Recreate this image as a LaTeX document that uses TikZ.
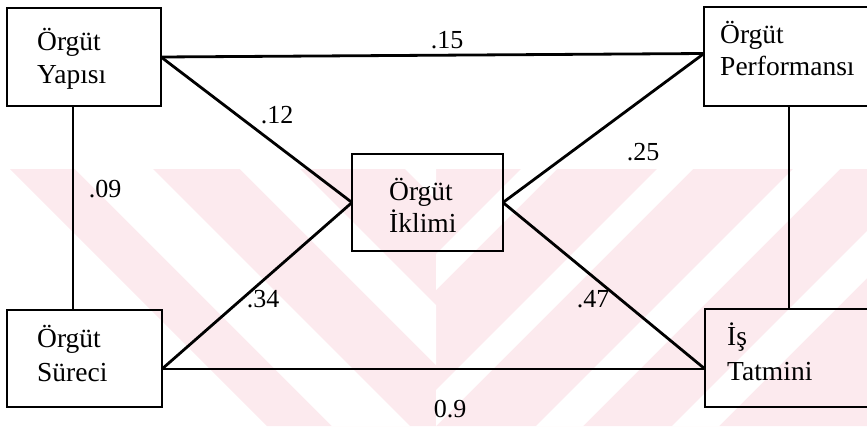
\documentclass[tikz,border=0pt]{standalone}
\usepackage{fontspec}
\setmainfont{Liberation Serif}
\usetikzlibrary{calc}
\definecolor{wmpink}{RGB}{252,234,238}
\tikzset{
  box/.style={draw, line width=1.8pt, inner sep=0pt, outer sep=0pt},
  txt/.style={anchor=base west, inner sep=0pt, font=\fontsize{27.5}{33}\selectfont},
  lbl/.style={anchor=base, inner sep=0pt, font=\fontsize{26}{30}\selectfont},
  link/.style={line width=2.8pt},
  vlink/.style={line width=2pt},
}
\begin{document}
\begin{tikzpicture}[x=1pt,y=-1pt]
\useasboundingbox (0,0) rectangle (867,426);
\clip (0,0) rectangle (867,426);

% faint striped watermark behind the diagram
\begin{scope}
  \fill[wmpink] (10,169) -- (867,169) -- (867,426) -- (267,426) -- cycle;
  \begin{scope}
    \clip (0,169) rectangle (436,426);
    \foreach \a/\b in {75/153, 240/300, 405/470}
      \fill[white] (\a,169) -- (\b,169) -- ({\b+257},426) -- ({\a+257},426) -- cycle;
  \end{scope}
  \begin{scope}
    \clip (436,169) rectangle (867,426);
    \foreach \a/\b in {521/557, 657/693, 793/840, 929/976}
      \fill[white] (\a,169) -- (\b,169) -- ({\b-257},426) -- ({\a-257},426) -- cycle;
  \end{scope}
\end{scope}

% boxes
\node[box, minimum width=154pt, minimum height=98pt] (yap) at (84,57) {};
\node[box, minimum width=155pt, minimum height=97pt] (sur) at (84.5,358.5) {};
\node[box, minimum width=151pt, minimum height=97pt] (ikl) at (427.5,202.5) {};
\node[box, minimum width=170pt, minimum height=99pt] (per) at (789,56.5) {};
\node[box, minimum width=168pt, minimum height=98pt] (tat) at (789,358) {};

% box texts
\node[txt] (yapA) at (37,50) {Örgüt};
\node[txt] (yapB) at (37,83) {Yapısı};
\node[txt] (surA) at (37,347) {Örgüt};
\node[txt] (surB) at (37,381) {Süreci};
\node[txt] (iklA) at (389,200) {Örgüt};
\node[txt] (iklB) at (389,232) {İklimi};
\node[txt] (perA) at (720,43) {Örgüt};
\node[txt] (perB) at (720,75) {Performansı};
\node[txt] (tatA) at (727,345) {İş};
\node[txt] (tatB) at (727,380) {Tatmini};

% connectors
\draw[link] (yap.east) -- ($(per.west)+(0,-3)$);
\draw[link] (yap.east) -- (ikl.west);
\draw[vlink] ($(yap.south)+(-11,0)$) -- ($(sur.north)+(-11.5,0)$);
\draw[link] ($(sur.east)+(0,10.5)$) -- (ikl.west);
\draw[link] ($(sur.east)+(0,10.5)$) -- ($(tat.west)+(0,11)$);
\draw[link] (ikl.east) -- ($(per.west)+(0,-3)$);
\draw[link] (ikl.east) -- ($(tat.west)+(0,11)$);
\draw[vlink] (per.south) -- (tat.north);

% path coefficients
\node[lbl] (c15) at (447,48) {.15};
\node[lbl] (c12) at (277,123) {.12};
\node[lbl] (c09) at (105,197) {.09};
\node[lbl] (c25) at (643,160) {.25};
\node[lbl] (c34) at (263,307) {.34};
\node[lbl] (c47) at (593,307) {.47};
\node[lbl] (c09b) at (450,417) {0.9};
\end{tikzpicture}
\end{document}
